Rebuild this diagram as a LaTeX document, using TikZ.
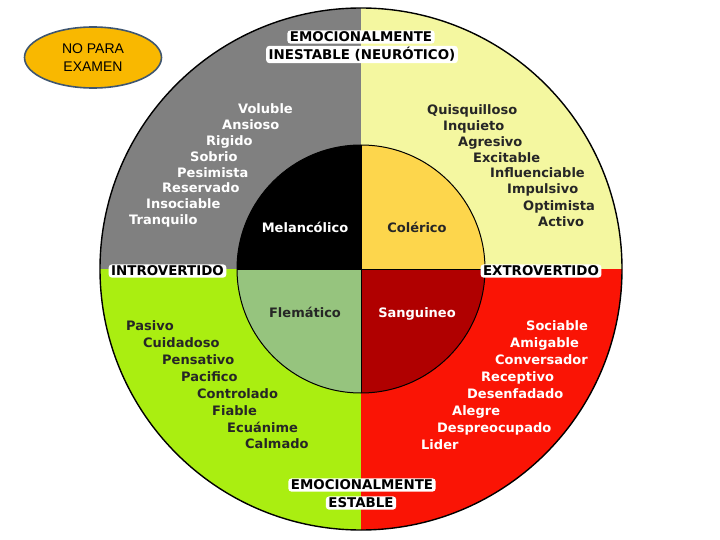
\documentclass[tikz,border=0pt]{standalone}
\usepackage{fontspec}
\usetikzlibrary{shapes.geometric}
\setmainfont{DejaVu Sans}
\newfontfamily\arialf{Liberation Sans}
\definecolor{qgray}{HTML}{808080}
\definecolor{qyellow}{HTML}{F4F7A0}
\definecolor{qgreen}{HTML}{AAEE11}
\definecolor{qred}{HTML}{FA1405}
\definecolor{iyellow}{HTML}{FDD64C}
\definecolor{igreen}{HTML}{96C47E}
\definecolor{ired}{HTML}{B00000}
\definecolor{ellfill}{HTML}{F9B800}
\definecolor{elldraw}{HTML}{3F5670}
\begin{document}
\begin{tikzpicture}[x=1pt,y=-1pt,
  word/.style={anchor=base west,inner sep=0pt,font=\bfseries\fontsize{13}{15}\selectfont},
  wordw/.style={word,text=white},
  wordk/.style={word,text=black!85},
  mid/.style={anchor=base,inner sep=0pt,font=\bfseries\fontsize{13}{15}\selectfont},
  lbl/.style={fill=white,rounded corners=3pt,inner xsep=2.5pt,inner ysep=1.5pt,text=black,font=\bfseries\fontsize{13.4}{15}\selectfont}]
\useasboundingbox (0,0) rectangle (720,540);
\fill[white] (0,0) rectangle (720,540);
\coordinate (C) at (361,269);
% outer quadrants
\begin{scope}
\clip (C) circle (261pt);
\fill[qgray] (C) rectangle (90,0);
\fill[qyellow] (C) rectangle (630,0);
\fill[qgreen] (C) rectangle (90,540);
\fill[qred] (C) rectangle (630,540);
\end{scope}
\draw[line width=1.4pt] (C) circle (261pt);
% inner quadrants
\begin{scope}
\clip (C) circle (124pt);
\fill[black] (C) rectangle (230,140);
\fill[iyellow] (C) rectangle (490,140);
\fill[igreen] (C) rectangle (230,400);
\fill[ired] (C) rectangle (490,400);
\end{scope}
\draw[line width=1pt] (C) circle (124pt);
\coordinate (it) at (361,145);
\coordinate (ib) at (361,393);
\coordinate (il) at (237,269);
\coordinate (ir) at (485,269);
\draw[line width=0.9pt] (it) -- (ib);
\draw[line width=0.9pt] (il) -- (ir);
% center names
\node[mid,text=white] (mel) at (305,233) {Melancólico};
\node[mid,text=black!85] (col) at (417,233) {Colérico};
\node[mid,text=black!85] (fle) at (305,317) {Flemático};
\node[mid,text=white] (san) at (417,317) {Sanguineo};
% gray quadrant
\node[wordw] (g1) at (238,114) {Voluble};
\node[wordw] (g2) at (222,130) {Ansioso};
\node[wordw] (g3) at (206,146) {Rigido};
\node[wordw] (g4) at (190,162) {Sobrio};
\node[wordw] (g5) at (177,178) {Pesimista};
\node[wordw] (g6) at (162,193) {Reservado};
\node[wordw] (g7) at (146,209) {Insociable};
\node[wordw] (g8) at (129,225) {Tranquilo};
% yellow quadrant
\node[wordk] (y1) at (427,115) {Quisquilloso};
\node[wordk] (y2) at (443,131) {Inquieto};
\node[wordk] (y3) at (458,147) {Agresivo};
\node[wordk] (y4) at (473,163) {Excitable};
\node[wordk] (y5) at (490,178) {Influenciable};
\node[wordk] (y6) at (507,194) {Impulsivo};
\node[wordk] (y7) at (523,211) {Optimista};
\node[wordk] (y8) at (538,226) {Activo};
% green quadrant
\node[wordk] (v1) at (126,330) {Pasivo};
\node[wordk] (v2) at (143,347) {Cuidadoso};
\node[wordk] (v3) at (162,364) {Pensativo};
\node[wordk] (v4) at (181,381) {Pacifico};
\node[wordk] (v5) at (197,398) {Controlado};
\node[wordk] (v6) at (212,415) {Fiable};
\node[wordk] (v7) at (227,432) {Ecuánime};
\node[wordk] (v8) at (245,448) {Calmado};
% red quadrant
\node[wordw] (r1) at (526,330) {Sociable};
\node[wordw] (r2) at (510,347) {Amigable};
\node[wordw] (r3) at (495,364) {Conversador};
\node[wordw] (r4) at (481,381) {Receptivo};
\node[wordw] (r5) at (467,398) {Desenfadado};
\node[wordw] (r6) at (452,415) {Alegre};
\node[wordw] (r7) at (437,432) {Despreocupado};
\node[wordw] (r8) at (421,449) {Lider};
% axis labels
\node[lbl] (t1) at (361,37) {EMOCIONALMENTE};
\node[lbl] (t2) at (362,54.5) {INESTABLE (NEURÓTICO)};
\node[lbl] (b1) at (362,485) {EMOCIONALMENTE};
\node[lbl] (b2) at (361,503) {ESTABLE};
\node[lbl] (li) at (167.5,271) {INTROVERTIDO};
\node[lbl] (lx) at (541,271) {EXTROVERTIDO};
% note ellipse
\node[draw=elldraw,fill=ellfill,line width=1.6pt,ellipse,minimum width=137pt,minimum height=61pt,inner sep=0pt,align=center,font=\arialf\fontsize{14}{18}\selectfont] (note) at (93,57.5) {NO PARA\\EXAMEN};
\end{tikzpicture}
\end{document}
